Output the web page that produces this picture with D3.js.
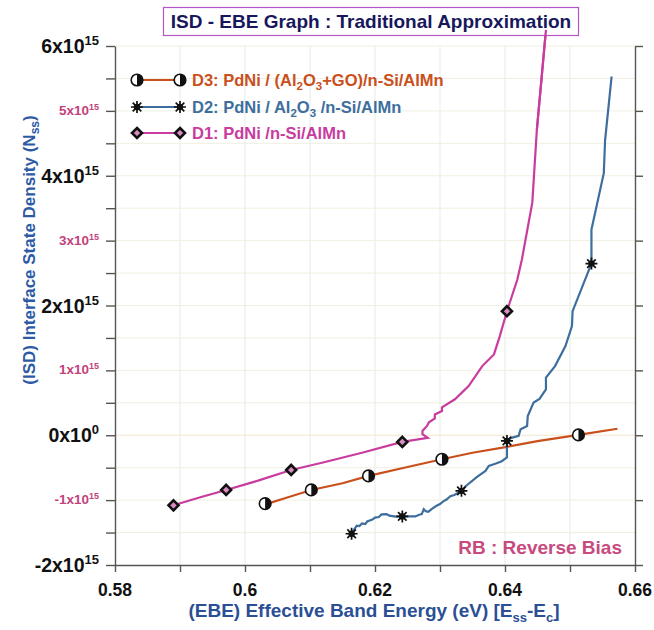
<!DOCTYPE html>
<html><head><meta charset="utf-8">
<script src="https://cdn.jsdelivr.net/npm/d3@7"></script>
<style>
body{margin:0;background:#fff}
svg{display:block}
text{font-family:"Liberation Sans",Arial,sans-serif;font-weight:bold}
</style>
</head><body>
<svg id="c" width="654" height="630"></svg>
<script>
// ---- data ----
const d1X = [0.5890,0.5930,0.5971,0.6020,0.6071,0.6120,0.6180,0.6242,0.6281,0.6273,0.6273,0.6280,0.6283,0.6292,0.6292,0.6303,0.6303,0.6323,0.6344,0.6365,0.6383,0.6392,0.6403,0.6419,0.6426,0.6442,0.6449,0.6457,0.6463];
const d1Y = [-1.08e15,-0.96e15,-0.843e15,-0.70e15,-0.535e15,-0.42e15,-0.27e15,-0.103e15,-0.04e15,0.015e15,0.066e15,0.143e15,0.2e15,0.26e15,0.32e15,0.374e15,0.43e15,0.554e15,0.758e15,1.066e15,1.246e15,1.528e15,1.912e15,2.4e15,2.71e15,3.585e15,4.708e15,5.585e15,6.25e15];
const d1MarkX = [0.5890,0.5971,0.6071,0.6242,0.6403];
const d1MarkY = [-1.08e15,-0.843e15,-0.535e15,-0.103e15,1.912e15];

const d2X = [0.6164,0.6168,0.6172,0.6176,0.6180,0.6185,0.6188,0.6196,0.6200,0.6206,0.6210,0.6218,0.6222,0.6232,0.6242,0.6262,0.6268,0.6272,0.6275,0.6278,0.6282,0.6288,0.6294,0.6300,0.6305,0.6310,0.6316,0.6322,0.6333,0.6339,0.6345,0.6350,0.6356,0.6363,0.6370,0.6375,0.6385,0.6395,0.6403,0.6403,0.6410,0.6421,0.6424,0.6434,0.6435,0.6444,0.6453,0.6463,0.6463,0.6477,0.6493,0.6503,0.6504,0.6533,0.6533,0.6552,0.6554,0.6564];
const d2Y = [-1.518e15,-1.45e15,-1.395e15,-1.40e15,-1.36e15,-1.37e15,-1.33e15,-1.30e15,-1.27e15,-1.26e15,-1.22e15,-1.215e15,-1.24e15,-1.255e15,-1.251e15,-1.251e15,-1.225e15,-1.215e15,-1.14e15,-1.17e15,-1.18e15,-1.13e15,-1.09e15,-1.06e15,-1.02e15,-0.99e15,-0.94e15,-0.92e15,-0.857e15,-0.79e15,-0.74e15,-0.70e15,-0.65e15,-0.60e15,-0.549e15,-0.472e15,-0.44e15,-0.40e15,-0.343e15,-0.087e15,-0.04e15,-0.01e15,0.092e15,0.143e15,0.297e15,0.503e15,0.56e15,0.708e15,0.888e15,1.066e15,1.374e15,1.682e15,1.912e15,2.646e15,3.17e15,4.04e15,4.55e15,5.53e15];
const d2MarkX = [0.6164,0.6242,0.6333,0.6403,0.6533];
const d2MarkY = [-1.518e15,-1.251e15,-0.857e15,-0.087e15,2.646e15];

const d3X = [0.6035,0.6065,0.6102,0.6150,0.6190,0.6250,0.6303,0.6350,0.6403,0.6450,0.6513,0.6573];
const d3Y = [-1.054e15,-0.96e15,-0.843e15,-0.74e15,-0.627e15,-0.49e15,-0.37e15,-0.27e15,-0.18e15,-0.09e15,0.005e15,0.1e15];
const d3MarkX = [0.6031,0.6102,0.6190,0.6303,0.6513];
const d3MarkY = [-1.054e15,-0.843e15,-0.627e15,-0.37e15,0.005e15];

const xMajorTicks = [0.58,0.60,0.62,0.64,0.66];
const xMajorLabels = ["0.58","0.6","0.62","0.64","0.66"];
const xAllTicks = [0.58,0.59,0.60,0.61,0.62,0.63,0.64,0.65,0.66];
const yMajorTicks = [-2e15,-1e15,0,1e15,2e15,3e15,4e15,5e15,6e15];
const yTickMant = ["-2","-1","0","1","2","3","4","5","6"];
const yTickExp  = ["15","15","0","15","15","15","15","15","15"];
const yAllTicks = [-2e15,-1.5e15,-1e15,-0.5e15,0,0.5e15,1e15,1.5e15,2e15,2.5e15,3e15,3.5e15,4e15,4.5e15,5e15,5.5e15,6e15];

const seriesNames = ["D3","D2","D1"];

// ---- drawing ----
const svg = d3.select("#c");
const x = d3.scaleLinear().domain([0.58,0.66]).range([115,635]);
const y = d3.scaleLinear().domain([-2e15,6e15]).range([565,46]);

const C1 = "#c83c9e", C2 = "#3d6e9e", C3 = "#c9501c";

// grid
const grid = svg.append("g");
grid.selectAll("line.v").data(xAllTicks.slice(1,-1)).join("line")
  .attr("x1",d=>x(d)).attr("x2",d=>x(d)).attr("y1",y(6e15)).attr("y2",y(-2e15))
  .attr("stroke","#e4ede6").attr("stroke-width",1);
grid.selectAll("line.h").data(yAllTicks.slice(1)).join("line")
  .attr("x1",x(0.58)).attr("x2",x(0.66)).attr("y1",d=>y(d)).attr("y2",d=>y(d))
  .attr("stroke",(d,i)=> d===0 ? "#f3e6cf" : "#f0efe2").attr("stroke-width",1);

// axes
const axCol = "#555";
const gl = svg.append("g").attr("transform",`translate(${x(0.58)},0)`)
  .call(d3.axisLeft(y).tickValues(yAllTicks).tickSize(9).tickSizeOuter(0).tickFormat(""));
const gr = svg.append("g").attr("transform",`translate(${x(0.66)},0)`)
  .call(d3.axisRight(y).tickValues(yMajorTicks).tickSize(8).tickSizeOuter(0).tickFormat(""));
const gb = svg.append("g").attr("transform",`translate(0,${y(-2e15)})`)
  .call(d3.axisBottom(x).tickValues(xAllTicks).tickSize(7).tickSizeOuter(0).tickFormat(""));
[gl,gr,gb].forEach(g=>{
  g.selectAll("path,line").attr("stroke",axCol).attr("stroke-width",1.4);
});

// y tick labels
yMajorTicks.forEach((v,i)=>{
  const odd = (i%2===1);
  const t = svg.append("text").attr("x",99).attr("y",y(v)+(odd?4:7))
    .attr("text-anchor","end")
    .attr("font-size",odd?13.5:19.5)
    .attr("fill",odd?"#c2427a":"#111");
  t.append("tspan").text(yTickMant[i]+"x10");
  t.append("tspan").attr("font-size",odd?9:13).attr("dy",odd?-5:-8).text(yTickExp[i]);
});

// x tick labels
xMajorTicks.forEach((v,i)=>{
  svg.append("text").attr("x",x(v)).attr("y",596).attr("text-anchor","middle")
    .attr("font-size",17.5).attr("fill","#111").text(xMajorLabels[i]);
});

// axis titles
const xl = svg.append("text").attr("x",374).attr("y",617).attr("text-anchor","middle")
  .attr("font-size",19).attr("fill","#2b4f95");
xl.append("tspan").text("(EBE) Effective Band Energy (eV) [E");
xl.append("tspan").attr("font-size",13).attr("dy",5).text("ss");
xl.append("tspan").attr("dy",-5).text("-E");
xl.append("tspan").attr("font-size",13).attr("dy",5).text("c");
xl.append("tspan").attr("dy",-5).text("]");

const yl = svg.append("text").attr("transform","translate(35,250) rotate(-90)")
  .attr("text-anchor","middle").attr("font-size",17).attr("fill","#2d5aa5");
yl.append("tspan").text("(ISD) Interface State Density (N");
yl.append("tspan").attr("font-size",12).attr("dy",4).text("ss");
yl.append("tspan").attr("dy",-4).text(")");

// lines
const line = d3.line().x(d=>x(d[0])).y(d=>y(d[1]));
svg.append("path").datum(d3.zip(d3X,d3Y)).attr("d",line).attr("fill","none").attr("stroke",C3).attr("stroke-width",2.2);
svg.append("path").datum(d3.zip(d2X,d2Y)).attr("d",line).attr("fill","none").attr("stroke",C2).attr("stroke-width",2.2);
svg.append("path").datum(d3.zip(d1X,d1Y)).attr("d",line).attr("fill","none").attr("stroke",C1).attr("stroke-width",2.2);

// marker painters
function diamond(g,cx,cy){
  const r=5;
  g.append("path").attr("d",`M${cx},${cy-r}L${cx+r},${cy}L${cx},${cy+r}L${cx-r},${cy}Z`)
    .attr("fill","#d98cc0").attr("stroke","#111").attr("stroke-width",2.6);
}
function star(g,cx,cy){
  const r=6, r2=4.3;
  const p=`M${cx-r},${cy}L${cx+r},${cy}M${cx},${cy-r}L${cx},${cy+r}M${cx-r2},${cy-r2}L${cx+r2},${cy+r2}M${cx-r2},${cy+r2}L${cx+r2},${cy-r2}`;
  g.append("path").attr("d",p).attr("stroke","#111").attr("stroke-width",1.7);
  g.append("circle").attr("cx",cx).attr("cy",cy).attr("r",3.2).attr("fill","#111");
}
function half(g,cx,cy){
  const r=5.8;
  g.append("circle").attr("cx",cx).attr("cy",cy).attr("r",r).attr("fill","#fff").attr("stroke","#111").attr("stroke-width",1.6);
  g.append("path").attr("d",`M${cx},${cy-r}A${r},${r} 0 0 1 ${cx},${cy+r}Z`).attr("fill","#111");
}
const mk = svg.append("g");
d3.zip(d3MarkX,d3MarkY).forEach(d=>half(mk,x(d[0]),y(d[1])));
d3.zip(d2MarkX,d2MarkY).forEach(d=>star(mk,x(d[0]),y(d[1])));
d3.zip(d1MarkX,d1MarkY).forEach(d=>diamond(mk,x(d[0]),y(d[1])));

// legend
const lg = svg.append("g");
const rows = [80,107,133];
const cols = [C3,C2,C1];
const painters = [half,star,diamond];
rows.forEach((ry,i)=>{
  lg.append("line").attr("x1",137).attr("x2",180).attr("y1",ry).attr("y2",ry).attr("stroke",cols[i]).attr("stroke-width",2.2);
  painters[i](lg,137,ry); painters[i](lg,180,ry);
});
function legText(ry,col,parts){
  const t = lg.append("text").attr("x",192).attr("y",ry+6).attr("font-size",16.5).attr("fill",col);
  let shift = 0;
  parts.forEach(p=>{
    const ts = t.append("tspan").text(p.s);
    if(p.sub){ ts.attr("font-size",11.5).attr("dy",4-shift); shift=4; }
    else { if(shift) ts.attr("dy",-shift); shift=0; }
  });
}
legText(rows[0],C3,[{s:seriesNames[0]+": PdNi / (Al"},{s:"2",sub:1},{s:"O"},{s:"3",sub:1},{s:"+GO)/n-Si/AlMn"}]);
legText(rows[1],C2,[{s:seriesNames[1]+": PdNi / Al"},{s:"2",sub:1},{s:"O"},{s:"3",sub:1},{s:" /n-Si/AlMn"}]);
legText(rows[2],C1,[{s:seriesNames[2]+": PdNi /n-Si/AlMn"}]);

// title
svg.append("rect").attr("x",163.5).attr("y",7.5).attr("width",415).attr("height",28)
  .attr("fill","#fff").attr("stroke","#b455c8").attr("stroke-width",1.2);
svg.append("text").attr("x",371).attr("y",28).attr("text-anchor","middle")
  .attr("font-size",19).attr("fill","#17175c").text("ISD - EBE Graph : Traditional Approximation");
// D1 passes over the title box in the reference: redraw its top segment
svg.append("path").datum(d3.zip(d1X,d1Y).slice(-3)).attr("d",line).attr("fill","none").attr("stroke",C1).attr("stroke-width",2.2);

// note
svg.append("text").attr("x",622).attr("y",554).attr("text-anchor","end")
  .attr("font-size",19).attr("fill","#c84a7e").text("RB : Reverse Bias");
</script>
</body></html>
